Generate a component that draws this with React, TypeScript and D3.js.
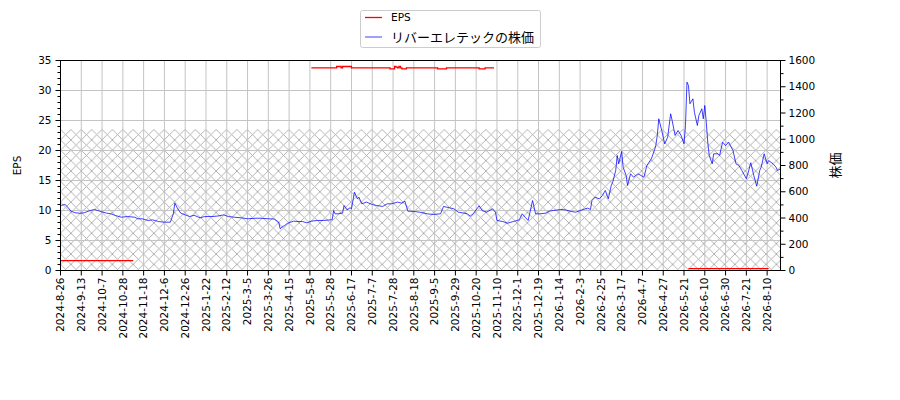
import * as d3 from 'd3';

// trading-day index axis, a tick every 14 days
const dateLabels = [
  '2024-8-26', '2024-9-13', '2024-10-7', '2024-10-28', '2024-11-18', '2024-12-6',
  '2024-12-26', '2025-1-22', '2025-2-12', '2025-3-5', '2025-3-26', '2025-4-15',
  '2025-5-8', '2025-5-28', '2025-6-17', '2025-7-7', '2025-7-28', '2025-8-18',
  '2025-9-5', '2025-9-29', '2025-10-20', '2025-11-10', '2025-12-1', '2025-12-19',
  '2026-1-14', '2026-2-3', '2026-2-25', '2026-3-17', '2026-4-7', '2026-4-27',
  '2026-5-21', '2026-6-10', '2026-6-30', '2026-7-21', '2026-8-10',
];
const TICK_STEP = 14;
const LAST_DAY = 485;

const priceDay = [
  0, 3, 5, 7, 10, 13, 16, 20, 23, 25, 27, 31, 34, 37, 41, 45, 50, 52, 55, 59, 62, 66, 70, 74,
  76, 77, 79, 81, 84, 87, 90, 94, 97, 102, 106, 110, 113, 117, 122, 126, 131, 135, 140, 144,
  147, 148, 149, 151, 153, 157, 160, 163, 166, 169, 173, 177, 182, 183, 184, 185, 187, 190,
  191, 193, 195, 196, 197, 198, 200, 201, 203, 206, 210, 213, 217, 220, 223, 227, 230, 232,
  234, 238, 242, 247, 251, 256, 258, 262, 265, 268, 272, 274, 276, 278, 282, 284, 287, 291,
  293, 294, 298, 301, 305, 309, 311, 313, 315, 317, 318, 320, 323, 327, 329, 332, 337, 340,
  344, 347, 350, 355, 357, 358, 360, 363, 365, 367, 369, 371, 372, 374, 375, 376, 378, 379,
  381, 382, 384, 386, 389, 391, 393, 395, 398, 400, 401, 402, 403, 405, 407, 409, 411, 412,
  414, 416, 418, 420, 421, 422, 423, 424, 426, 427, 429, 430, 432, 433, 434, 435, 436, 437,
  439, 440, 443, 444, 446, 448, 450, 453, 455, 457, 459, 462, 463, 465, 467, 469, 471, 472,
  474, 476, 477, 480, 482, 483, 485,
];
const priceVal = [
  495, 503, 482, 452, 440, 436, 440, 457, 465, 457, 450, 437, 432, 419, 406, 411, 406, 394, 394, 381, 386, 373, 368, 368,
  432, 513, 470, 437, 424, 411, 421, 401, 411, 411, 415, 424, 411, 406, 401, 394, 398, 398, 394, 392,
  368, 317, 330, 343, 360, 376, 373, 373, 363, 376, 381, 381, 386, 386, 457, 432, 432, 437,
  495, 462, 478, 470, 533, 597, 546, 559, 508, 521, 503, 495, 488, 508, 508, 521, 513, 528,
  452, 450, 444, 432, 427, 432, 488, 478, 470, 444, 437, 432, 414, 432, 493, 457, 444, 470,
  444, 381, 373, 360, 373, 386, 432, 406, 381, 482, 533, 432, 432, 437, 452, 457, 465, 462,
  450, 444, 457, 475, 465, 533, 559, 546, 571, 610, 546, 648, 673, 762, 876, 813, 907, 787,
  724, 648, 737, 711, 737, 724, 711, 800, 851, 914, 952, 1029, 1156, 1067, 965, 1016, 1194, 1143,
  1029, 1067, 1029, 965, 1105, 1435, 1410, 1270, 1308, 1206, 1105, 1181, 1232, 1156, 1257, 1130, 978, 876,
  813, 889, 889, 876, 978, 951, 978, 914, 813, 800, 762, 699, 737, 821, 724, 642, 762, 787,
  889, 813, 838, 813, 787, 762, 775,
];

// EPS, three separate reporting runs: [day, eps]
const epsFirst: [number, number][] = [[0, 1.66], [49, 1.66]];
const epsSecond: [number, number][] = [
  [169, 33.78], [185, 33.78], [186, 34.0], [188, 34.0], [189, 33.78], [190, 34.0], [195, 34.0],
  [196, 33.78], [221, 33.78], [222, 33.61], [224, 33.61], [225, 34.0], [226, 33.9], [227, 33.78],
  [228, 34.0], [229, 33.78], [230, 33.61], [232, 33.61], [233, 33.78], [253, 33.78], [254, 33.61],
  [259, 33.61], [260, 33.78], [281, 33.78], [282, 33.61], [285, 33.61], [286, 33.78], [292, 33.78],
];
const epsThird: [number, number][] = [[423, 0.3], [477, 0.3]];

const hatchTop = 23.5;
const epsTicks = d3.range(0, 36, 5);
const epsMinor = d3.range(0, 36, 1);
const priceTicks = d3.range(0, 1601, 200);
const priceMinor = d3.range(0, 1601, 100);

const latin = '"DejaVu Sans", sans-serif';
const cjk = '"Noto Sans CJK JP", "DejaVu Sans", sans-serif';
const HATCH = 10.375;

export default function App() {
  const left = 60.5, right = 780.5, top = 60.5, bottom = 270.5;
  const x = d3.scaleLinear().domain([0, LAST_DAY]).range([left, right]);
  const yEps = d3.scaleLinear().domain([0, 35]).range([bottom, top]);
  const yPrice = d3.scaleLinear().domain([0, 1600]).range([bottom, top]);

  const priceLine = d3.line<number>()
    .x((_, i) => x(priceDay[i]))
    .y(d => yPrice(d));
  const epsLine = d3.line<[number, number]>()
    .x(d => x(d[0]))
    .y(d => yEps(d[1]))
    .curve(d3.curveStepAfter);

  const xTicks = dateLabels.map((label, i) => ({ label, pos: x(i * TICK_STEP) }));

  return (
    <div style={{ position: 'absolute', left: 0, top: 0 }}>
      <svg width={900} height={400} style={{ display: 'block', background: '#fff' }}>
        <defs>
          <pattern id="xhatch" patternUnits="userSpaceOnUse" x={left} y={yEps(hatchTop)} width={HATCH} height={HATCH}>
            <path d={`M0,0L${HATCH},${HATCH}M${HATCH},0L0,${HATCH}`} stroke="#aaaaaa" strokeWidth={0.9} />
          </pattern>
          <clipPath id="plot">
            <rect x={left} y={top} width={right - left} height={bottom - top} />
          </clipPath>
        </defs>

        {/* hatched band */}
        <rect x={left} y={yEps(hatchTop)} width={right - left} height={bottom - yEps(hatchTop)} fill="url(#xhatch)" />

        {/* grid */}
        <g stroke="#c4c4c4" strokeWidth={1}>
          {xTicks.map(t => <line key={t.label} x1={t.pos} x2={t.pos} y1={top} y2={bottom} />)}
          {epsTicks.map(v => <line key={v} x1={left} x2={right} y1={yEps(v)} y2={yEps(v)} />)}
        </g>

        <g clipPath="url(#plot)">
          <path d={priceLine(priceVal) || ''} fill="none" stroke="blue" strokeOpacity={0.75} strokeWidth={1} />
          {[epsFirst, epsSecond, epsThird].map((seg, i) => (
            <path key={i} d={epsLine(seg) || ''} fill="none" stroke="red" strokeWidth={1.3} />
          ))}
        </g>

        {/* frame */}
        <rect x={left} y={top} width={right - left} height={bottom - top} fill="none" stroke="#000" strokeWidth={1} />

        {/* ticks */}
        <g stroke="#000" strokeWidth={1}>
          {epsMinor.map(v => <line key={v} x1={left} x2={left - (v % 5 === 0 ? 5 : 3)} y1={yEps(v)} y2={yEps(v)} />)}
          {priceMinor.map(v => <line key={v} x1={right} x2={right + (v % 200 === 0 ? 5 : 3)} y1={yPrice(v)} y2={yPrice(v)} />)}
          {xTicks.map(t => <line key={t.label} x1={t.pos} x2={t.pos} y1={bottom} y2={bottom + 5} />)}
        </g>
        <g fontFamily={latin} fontSize={10.5} fill="#000">
          {epsTicks.map(v => (
            <text key={v} x={left - 9} y={yEps(v)} dy="0.35em" textAnchor="end">{v}</text>
          ))}
          {priceTicks.map(v => (
            <text key={v} x={right + 8} y={yPrice(v)} dy="0.35em" textAnchor="start">{v}</text>
          ))}
          {xTicks.map(t => (
            <text key={t.label} transform={`translate(${t.pos},${bottom + 7}) rotate(-90)`} dy="0.35em" textAnchor="end">{t.label}</text>
          ))}
          <text transform={`translate(21,${(top + bottom) / 2}) rotate(-90)`} textAnchor="middle">EPS</text>
        </g>
        <text transform={`translate(840,${(top + bottom) / 2}) rotate(-90)`} textAnchor="middle" fontFamily={cjk} fontSize={13}>株価</text>

        {/* legend */}
        <g>
          <rect x={360.5} y={10.5} width={180} height={37} rx={2} fill="#fff" stroke="#cccccc" />
          <line x1={365} x2={382} y1={17.5} y2={17.5} stroke="red" strokeWidth={1.3} />
          <text x={391} y={17.5} dy="0.35em" fontFamily={latin} fontSize={10.5}>EPS</text>
          <line x1={365} x2={382} y1={37} y2={37} stroke="blue" strokeOpacity={0.75} strokeWidth={1} />
          <text x={391} y={37} dy="0.35em" fontFamily={cjk} fontSize={13}>リバーエレテックの株価</text>
        </g>
      </svg>
    </div>
  );
}
